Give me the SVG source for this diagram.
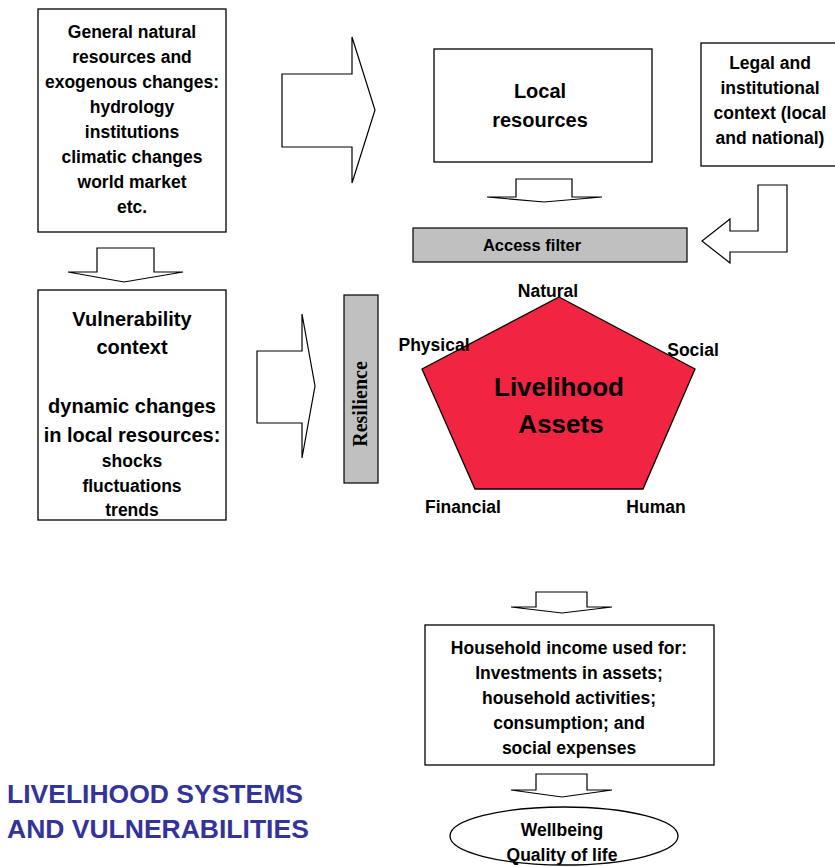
<svg xmlns="http://www.w3.org/2000/svg" width="835" height="867" viewBox="0 0 835 867">
<style>
.box{fill:#fff;stroke:#000;stroke-width:1.3}
.gray{fill:#c0c0c0;stroke:#000;stroke-width:1.2}
.arr{fill:#fff;stroke:#000;stroke-width:1.2;stroke-linejoin:miter}
text{font-family:"Liberation Sans",Arial,sans-serif;font-weight:bold;fill:#000;text-anchor:middle}
.s{font-size:17.5px}
.m{font-size:20px}
.l{font-size:26px}
.t{font-size:26.5px;fill:#333399;text-anchor:start}
.r{font-family:"Liberation Serif","Times New Roman",serif;font-size:20px}
</style>
<rect width="835" height="867" fill="#fff"/>
<g id="connectors">
<path class="arr" d="M282,74 L352,74 L352,37 L375,110 L352,183 L352,147 L282,147 Z"/>
<path class="arr" d="M97,248 L154,248 L154,272 L183,272 L124,282 L68,272 L97,272 Z"/>
<path class="arr" d="M516,179 L572,179 L572,197 L602,197 L544,202 L487,197 L516,197 Z"/>
<path class="arr" d="M758,185 L787,185 L787,252 L730,252 L730,263 L702,241 L730,219 L730,231 L758,231 Z"/>
<path class="arr" d="M257,351 L302,351 L302,314 L315,386 L302,458 L302,423 L257,423 Z"/>
<path class="arr" d="M536,592 L587,592 L587,607 L612,607 L562,613 L511,607 L536,607 Z"/>
<path class="arr" d="M536,774 L587,774 L587,790 L612,790 L562,797 L511,790 L536,790 Z"/>
</g>
<g id="general">
<rect class="box" x="38" y="9" width="188" height="223"/>
<text class="s" x="132" y="38">General natural</text>
<text class="s" x="132" y="63">resources and</text>
<text class="s" x="132" y="88">exogenous changes:</text>
<text class="s" x="132" y="113">hydrology</text>
<text class="s" x="132" y="138">institutions</text>
<text class="s" x="132" y="163">climatic changes</text>
<text class="s" x="132" y="188">world market</text>
<text class="s" x="132" y="213">etc.</text>
</g>
<g id="local">
<rect class="box" x="434" y="49" width="218" height="113"/>
<text class="m" x="540" y="98">Local</text>
<text class="m" x="540" y="127">resources</text>
</g>
<g id="legal">
<rect class="box" x="701" y="43" width="140" height="123"/>
<text class="s" x="770" y="69">Legal and</text>
<text class="s" x="770" y="94">institutional</text>
<text class="s" x="770" y="119">context (local</text>
<text class="s" x="770" y="144">and national)</text>
</g>
<g id="access">
<rect class="gray" x="413" y="228" width="274" height="34"/>
<text class="s" x="532" y="251" style="font-size:16.5px">Access filter</text>
</g>
<g id="vulnerability">
<rect class="box" x="38" y="290" width="188" height="230"/>
<text class="m" x="132" y="326">Vulnerability</text>
<text class="m" x="132" y="354">context</text>
<text class="m" x="132" y="413">dynamic changes</text>
<text class="m" x="132" y="442">in local resources:</text>
<text class="s" x="132" y="467">shocks</text>
<text class="s" x="132" y="492">fluctuations</text>
<text class="s" x="132" y="516">trends</text>
</g>
<g id="resilience">
<rect class="gray" x="344" y="295" width="34" height="188"/>
<text class="r" transform="translate(367,404) rotate(-90)">Resilience</text>
</g>
<g id="assets">
<polygon points="559,297 695,369 643,489 475,489 422,369" fill="#f12541" stroke="#000" stroke-width="1.3"/>
<text class="l" x="559" y="396">Livelihood</text>
<text class="l" x="561" y="433">Assets</text>
<text class="s" x="548" y="297">Natural</text>
<text class="s" x="434" y="351">Physical</text>
<text class="s" x="693" y="356">Social</text>
<text class="s" x="463" y="513">Financial</text>
<text class="s" x="656" y="513">Human</text>
</g>
<g id="household">
<rect class="box" x="425" y="625" width="289" height="140"/>
<text class="s" x="569" y="654">Household income used for:</text>
<text class="s" x="569" y="679">Investments in assets;</text>
<text class="s" x="569" y="704">household activities;</text>
<text class="s" x="569" y="729">consumption; and</text>
<text class="s" x="569" y="754">social expenses</text>
</g>
<g id="wellbeing">
<ellipse class="box" cx="564" cy="836" rx="114" ry="29"/>
<text class="s" x="562" y="836">Wellbeing</text>
<text class="s" x="562" y="861">Quality of life</text>
</g>
<g id="title">
<text class="t" x="7" y="803">LIVELIHOOD SYSTEMS</text>
<text class="t" x="7" y="838">AND VULNERABILITIES</text>
</g>
</svg>
